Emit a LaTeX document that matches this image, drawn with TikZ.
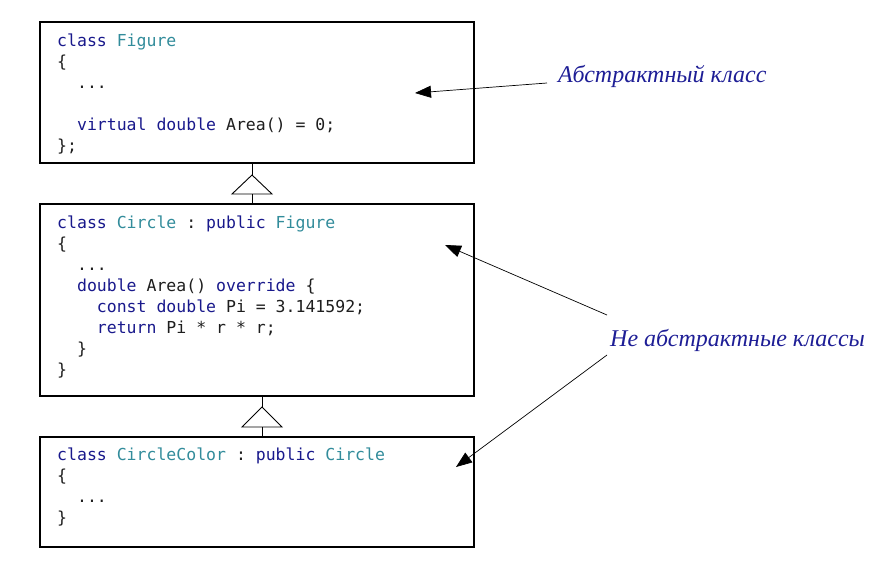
\documentclass[tikz,border=0pt]{standalone}
\usepackage{fontspec}
\setmainfont{Liberation Serif}
\setmonofont{DejaVu Sans Mono}
\usetikzlibrary{arrows.meta}
\definecolor{kw}{RGB}{25,25,140}
\definecolor{ty}{RGB}{50,140,155}
\definecolor{lbl}{RGB}{30,30,150}
\definecolor{txt}{RGB}{30,30,30}
\newcommand\K[1]{\textcolor{kw}{#1}}
\newcommand\T[1]{\textcolor{ty}{#1}}
\begin{document}
\begin{tikzpicture}[x=1pt,y=-1pt,
  classbox/.style={draw, line width=1.1pt, minimum width=434pt, anchor=north west, inner sep=0pt, outer sep=0pt},
  code/.style={anchor=north west, inner sep=0pt, align=left, text=txt,
    font=\ttfamily\fontsize{16.5}{21}\selectfont},
  label/.style={anchor=west, inner sep=0pt, text=lbl, font=\itshape\fontsize{24}{28}\selectfont},
  arr/.style={line width=0.7pt, -{Triangle[length=16pt,width=12pt]}},
  inh/.style={line width=0.9pt}]
\useasboundingbox (0,0) rectangle (890,570);
\fill[white] (0,0) rectangle (890,570);
% boxes
\node[classbox, minimum height=141pt] (b1) at (40,22) {};
\node[classbox, minimum height=192pt] (b2) at (40,204) {};
\node[classbox, minimum height=110pt] (b3) at (40,437) {};
% code
\node[code] (c1) at (57,31.3) {\strut\K{class} \T{Figure}\\
\{\\
~~...\\
\mbox{}\\
~~\K{virtual} \K{double} Area() = 0;\\
\};};
\node[code] (c2) at (57,213.3) {\strut\K{class} \T{Circle} : \K{public} \T{Figure}\\
\{\\
~~...\\
~~\K{double} Area() \K{override} \{\\
~~~~\K{const} \K{double} Pi = 3.141592;\\
~~~~\K{return} Pi * r * r;\\
~~\}\\
\}};
\node[code] (c3) at (57,445.3) {\strut\K{class} \T{CircleColor} : \K{public} \T{Circle}\\
\{\\
~~...\\
\}};
% inheritance triangles
\coordinate (t1) at (252,175);
\coordinate (t2) at (262,407);
\draw[inh] (b1.south -| t1) -- (t1);
\draw[inh] (t1) -- ++(-20,19) -- ++(40,0) -- cycle;
\draw[inh] ([yshift=-19pt]t1) -- (b2.north -| t1);
\draw[inh] (b2.south -| t2) -- (t2);
\draw[inh] (t2) -- ++(-20,20) -- ++(40,0) -- cycle;
\draw[inh] ([yshift=-20pt]t2) -- (b3.north -| t2);
% labels
\node[label] (l1) at (558,76) {Абстрактный класс};
\node[label] (l2) at (610,340) {Не абстрактные классы};
\coordinate (s1) at (547,83);
\coordinate (e1) at (415,93);
\coordinate (s2) at (607,315);
\coordinate (e2) at (445,245);
\coordinate (s3) at (607,355);
\coordinate (e3) at (456,467);
\draw[arr] (s1) -- (e1);
\draw[arr] (s2) -- (e2);
\draw[arr] (s3) -- (e3);
\end{tikzpicture}
\end{document}
